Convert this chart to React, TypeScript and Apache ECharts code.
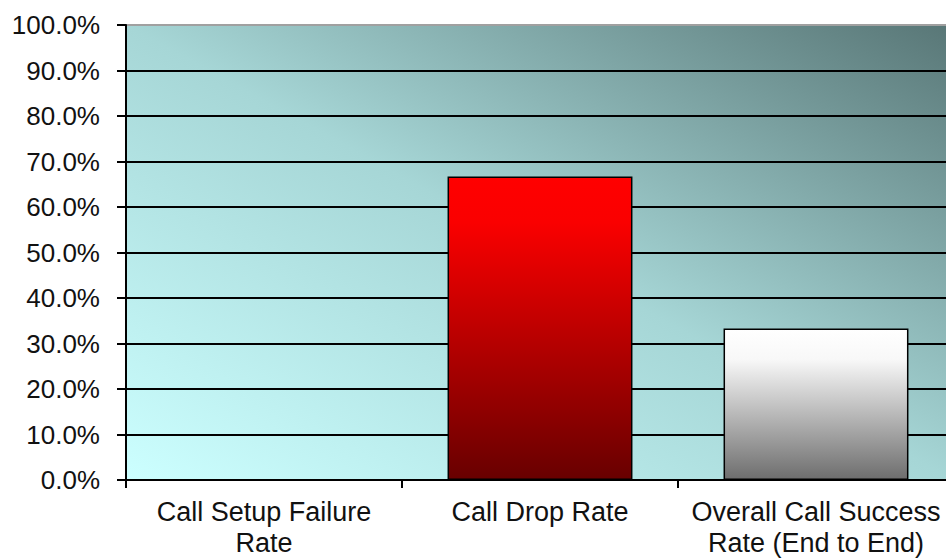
import React, { useEffect, useRef } from "react";
import * as echarts from "echarts";

const categories = [
  "Call Setup Failure\nRate",
  "Call Drop Rate",
  "Overall Call Success\nRate (End to End)",
];
const rates = [0, 66.7, 33.3];
const yTicks = { min: 0, max: 100, interval: 10 };

export default function App() {
  const ref = useRef<HTMLDivElement>(null);
  useEffect(() => {
    if (!ref.current) return;
    const chart = echarts.init(ref.current, null, { renderer: "svg" });
    const barFills = [
      new echarts.graphic.LinearGradient(0, 0, 0, 1, [
        { offset: 0, color: "#ff0000" },
        { offset: 1, color: "#660000" },
      ]),
      new echarts.graphic.LinearGradient(0, 0, 0, 1, [
        { offset: 0, color: "#ff0000" },
        { offset: 0.15, color: "#fa0000" },
        { offset: 1, color: "#680000" },
      ]),
      new echarts.graphic.LinearGradient(0, 0, 0, 1, [
        { offset: 0, color: "#ffffff" },
        { offset: 0.2, color: "#f8f8f8" },
        { offset: 1, color: "#6e6e6e" },
      ]),
    ];
    const splitColors = Array.from({ length: 11 }, (_, i) => (i === 10 ? "#a0a0a0" : "#000000"));
    chart.setOption({
      animation: false,
      textStyle: { fontFamily: "Liberation Sans, Arial, sans-serif" },
      grid: {
        left: 126,
        top: 25,
        right: 0,
        bottom: 75,
        show: true,
        borderWidth: 0,
        backgroundColor: new echarts.graphic.LinearGradient(0, 1, 1, 0, [
          { offset: 0, color: "#ccffff" },
          { offset: 0.5, color: "#a6d6d6" },
          { offset: 1, color: "#587676" },
        ]),
      },
      xAxis: {
        type: "category",
        data: categories,
        axisLine: { show: true, lineStyle: { color: "#000", width: 2 } },
        axisTick: { show: true, length: 8, alignWithLabel: false, lineStyle: { color: "#000", width: 2 } },
        axisLabel: {
          color: "#111",
          fontSize: 27,
          lineHeight: 31,
          margin: 16,
          interval: 0,
        },
      },
      yAxis: {
        type: "value",
        min: yTicks.min,
        max: yTicks.max,
        interval: yTicks.interval,
        axisLine: { show: true, lineStyle: { color: "#000", width: 2 } },
        axisTick: { show: true, length: 9, lineStyle: { color: "#000", width: 2 } },
        axisLabel: {
          color: "#111",
          fontSize: 26,
          margin: 26,
          formatter: (v: number) => v.toFixed(1) + "%",
        },
        splitLine: { show: true, lineStyle: { color: splitColors, width: 2 } },
      },
      series: [
        {
          type: "bar",
          barWidth: "67%",
          data: rates.map((v, i) => ({
            value: v,
            itemStyle: { color: barFills[i], borderColor: "#000", borderWidth: 1.5 },
          })),
        },
      ],
    });
    return () => chart.dispose();
  }, []);
  return (
    <div
      ref={ref}
      style={{ position: "fixed", left: 0, top: 0, width: 954, height: 558, background: "#fff" }}
    />
  );
}
